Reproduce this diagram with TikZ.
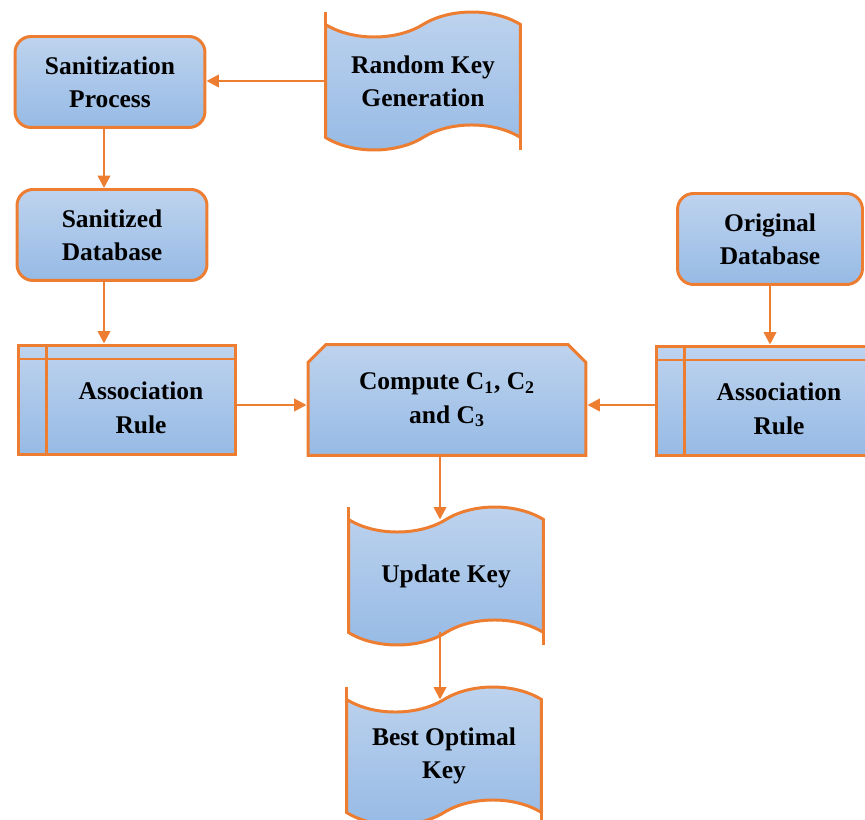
\documentclass[tikz,border=0pt]{standalone}
\usepackage{fontspec}
\setmainfont{Liberation Serif}
\usepackage{tikz}
\usetikzlibrary{arrows.meta}
\usetikzlibrary{shapes.misc}
\usetikzlibrary{shapes.symbols}
\usetikzlibrary{positioning}

\definecolor{lineorange}{RGB}{237,125,49}
\definecolor{boxtop}{RGB}{190,211,238}
\definecolor{boxbot}{RGB}{150,186,229}

\tikzset{
  boxfont/.style={font=\bfseries\fontsize{14.5}{19}\selectfont, align=center},
  box/.style={boxfont, draw=lineorange, line width=1.7pt, top color=boxtop, bottom color=boxbot, inner sep=0pt},
  dbbox/.style={box, rectangle, rounded corners=0.32cm, minimum width=3.8cm, minimum height=1.82cm},
  compbox/.style={box, chamfered rectangle, chamfered rectangle corners={north west,north east},
    chamfered rectangle xsep=0.18cm, chamfered rectangle ysep=0.18cm, minimum width=5.56cm, minimum height=2.22cm},
  tapebox/.style={box, tape, outer sep=0pt, tape bend top=in and out, tape bend bottom=in and out,
    tape bend height=0.5cm, minimum width=3.9cm, minimum height=2.76cm,
    append after command={\pgfextra{
      \draw[lineorange, line width=1.7pt] (\tikzlastnode.west) -- ([yshift=1.38cm]\tikzlastnode.west)
        (\tikzlastnode.east) -- ([yshift=-1.38cm]\tikzlastnode.east);}}},
  store/.style={box, rectangle, minimum width=4.35cm, minimum height=2.2cm,
    path picture={
      \draw[lineorange, line width=1.7pt] ([xshift=0.56cm]path picture bounding box.north west) -- ([xshift=0.56cm]path picture bounding box.south west);
      \draw[lineorange, line width=1.7pt] ([yshift=-0.28cm]path picture bounding box.north west) -- ([yshift=-0.28cm]path picture bounding box.north east);
    },
    label={[boxfont, xshift=0.28cm, yshift=-0.16cm]center:#1}},
  arrow/.style={draw=lineorange, line width=1.4pt, -{Triangle[length=7pt,width=7pt]}}
}

\begin{document}
\begin{tikzpicture}[x=0.02cm, y=-0.02cm]
  \useasboundingbox (0,0) rectangle (865,820);
  \clip (0,0) rectangle (865,820);

  % boxes
  \node[dbbox] (sanproc) at (110,82) {Sanitization\\Process};
  \node[dbbox] (sandb) at (112,235) {Sanitized\\Database};
  \node[dbbox, minimum width=3.7cm] (origdb) at (770,239) {Original\\Database};
  \node[tapebox] (randkey) at (423,81) {Random Key\\Generation};
  \node[store={Association\\Rule}] (rule1) at (127,400) {};
  \node[store={Association\\Rule}] (rule2) at (765,401) {};
  \node[compbox] (compute) at (447,400) {Compute C\textsubscript{1}, C\textsubscript{2}\\and C\textsubscript{3}};
  \node[tapebox] (updkey) at (446,576) {Update Key};
  \node[tapebox] (bestkey) at (444,756) {Best Optimal\\Key};

  % arrows
  \draw[arrow] (randkey.west) -- (randkey.west -| sanproc.east);
  \draw[arrow] ([xshift=-0.12cm]sanproc.south) -- ([xshift=-0.12cm]sanproc.south |- sandb.north);
  \draw[arrow] ([xshift=-0.16cm]sandb.south) -- ([xshift=-0.16cm]sandb.south |- rule1.north);
  \draw[arrow] (origdb.south) -- (origdb.south |- rule2.north);
  \draw[arrow] ([yshift=-0.1cm]rule1.east) -- ([yshift=-0.1cm]rule1.east -| compute.west);
  \draw[arrow] ([yshift=-0.08cm]rule2.west) -- ([yshift=-0.08cm]rule2.west -| compute.east);
  \draw[arrow] ([xshift=-0.14cm]compute.south) -- ([xshift=-0.14cm]compute.south |- updkey.north);
  \draw[arrow] ([xshift=-0.12cm]updkey.south) -- ([xshift=-0.12cm]updkey.south |- bestkey.north);
\end{tikzpicture}
\end{document}
